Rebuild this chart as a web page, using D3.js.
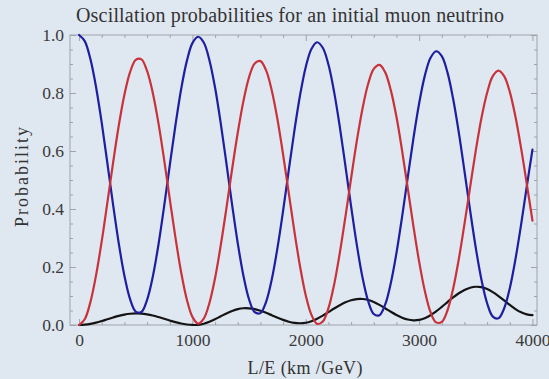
<!DOCTYPE html>
<html><head><meta charset="utf-8">
<script src="https://cdn.jsdelivr.net/npm/d3@7"></script>
<style>html,body{margin:0;padding:0;background:#dfe7f1;} svg{display:block}</style>
</head><body><svg id="c" width="549" height="379"></svg>
<script>
// L/E sample positions (km/GeV)
const lOverE = [0,50,100,150,200,250,300,350,400,450,500,550,600,650,700,750,800,850,900,950,
  1000,1050,1100,1150,1200,1250,1300,1350,1400,1450,1500,1550,1600,1650,1700,1750,1800,1850,1900,1950,
  2000,2050,2100,2150,2200,2250,2300,2350,2400,2450,2500,2550,2600,2650,2700,2750,2800,2850,2900,2950,
  3000,3050,3100,3150,3200,3250,3300,3350,3400,3450,3500,3550,3600,3650,3700,3750,3800,3850,3900,3950,4000];
// blue: muon neutrino survival
const pMuMu = [1.000,.979,.917,.820,.697,.557,.415,.282,.170,.089,.046,.045,.087,.166,.276,.408,.550,.688,.812,.909,
  .972,.994,.974,.913,.818,.695,.557,.415,.282,.170,.088,.044,.041,.080,.157,.265,.394,.534,.671,.793,
  .890,.952,.975,.956,.898,.804,.684,.548,.409,.277,.165,.083,.038,.034,.070,.144,.248,.374,.510,.644,
  .764,.859,.921,.944,.927,.871,.780,.664,.531,.395,.266,.156,.075,.029,.023,.057,.127,.227,.347,.478,.605];
// red: muon -> tau
const pMuTau = [0.000,.020,.079,.172,.289,.423,.559,.687,.794,.872,.914,.916,.876,.801,.697,.571,.435,.302,.183,.089,
  .028,.005,.022,.076,.162,.275,.403,.537,.663,.772,.855,.902,.910,.878,.809,.710,.588,.455,.322,.201,
  .102,.035,.004,.012,.058,.139,.248,.374,.506,.634,.745,.831,.883,.897,.872,.810,.718,.601,.471,.340,
  .219,.118,.045,.009,.011,.050,.125,.227,.348,.476,.602,.714,.801,.858,.877,.858,.804,.718,.609,.486,.360];
// black: muon -> electron
const pMuE = [0.000,.0010,.0037,.0081,.0136,.0197,.0258,.0314,.0359,.0388,.0400,.0393,.0367,.0327,.0274,.0215,.0155,.0098,.0051,.0018,
  .0001,.0006,.0044,.0111,.0200,.0300,.0399,.0484,.0546,.0577,.0575,.0545,.0491,.0419,.0337,.0253,.0176,.0114,.0074,.0060,
  .0078,.0132,.0215,.0322,.0443,.0567,.0683,.0781,.0854,.0893,.0897,.0862,.0792,.0694,.0578,.0458,.0345,.0252,.0188,.0161,
  .0175,.0235,.0336,.0469,.0625,.0790,.0950,.1094,.1209,.1286,.1319,.1304,.1241,.1135,.0999,.0846,.0691,.0550,.0437,.0365,.0340];
const xTicks = [0,1000,2000,3000,4000];
const yTicks = [0,0.2,0.4,0.6,0.8,1.0];
const xMinorTicks = [200,400,600,800,1200,1400,1600,1800,2200,2400,2600,2800,3200,3400,3600,3800];
const yMinorTicks = [0.05,0.1,0.15,0.25,0.3,0.35,0.45,0.5,0.55,0.65,0.7,0.75,0.85,0.9,0.95];
const titleText = "Oscillation probabilities for an initial muon neutrino";
const xLabel = "L/E (km /GeV)";
const yLabel = "Probability";

const W = 549, H = 379;
const FONT = "'Liberation Serif','Times New Roman',serif";
const svg = d3.select("#c");
svg.append("rect").attr("width", W).attr("height", H).attr("fill", "#dfe7f1");

const x = d3.scaleLinear().domain([-80, 4040]).range([70, 537]);
const y = d3.scaleLinear().domain([0, 1]).range([325, 35]);
const x0 = x.range()[0], x1 = x.range()[1], y0 = y.range()[0], y1 = y.range()[1];

const frameColor = "#9ea3aa";
function styleAxis(g, showText) {
  g.select(".domain").remove();
  g.selectAll(".tick line").attr("stroke", frameColor).attr("stroke-width", 1);
  g.selectAll("text").attr("font-family", FONT).attr("font-size", 17.5).attr("fill", "#3a3a3a");
  if (!showText) g.selectAll("text").remove();
}
// major ticks
svg.append("g").attr("transform", `translate(0,${y0})`)
  .call(d3.axisBottom(x).tickValues(xTicks).tickSize(-6).tickPadding(9).tickFormat(d3.format("d")))
  .call(g => styleAxis(g, true));
svg.append("g").attr("transform", `translate(0,${y1})`)
  .call(d3.axisTop(x).tickValues(xTicks).tickSize(-6))
  .call(g => styleAxis(g, false));
svg.append("g").attr("transform", `translate(${x0},0)`)
  .call(d3.axisLeft(y).tickValues(yTicks).tickSize(-6).tickPadding(6).tickFormat(d3.format(".1f")))
  .call(g => styleAxis(g, true));
svg.append("g").attr("transform", `translate(${x1},0)`)
  .call(d3.axisRight(y).tickValues(yTicks).tickSize(-6))
  .call(g => styleAxis(g, false));
// minor ticks
svg.append("g").attr("transform", `translate(0,${y0})`)
  .call(d3.axisBottom(x).tickValues(xMinorTicks).tickSize(-3)).call(g => styleAxis(g, false));
svg.append("g").attr("transform", `translate(0,${y1})`)
  .call(d3.axisTop(x).tickValues(xMinorTicks).tickSize(-3)).call(g => styleAxis(g, false));
svg.append("g").attr("transform", `translate(${x0},0)`)
  .call(d3.axisLeft(y).tickValues(yMinorTicks).tickSize(-3)).call(g => styleAxis(g, false));
svg.append("g").attr("transform", `translate(${x1},0)`)
  .call(d3.axisRight(y).tickValues(yMinorTicks).tickSize(-3)).call(g => styleAxis(g, false));

// frame
svg.append("rect").attr("x", x0).attr("y", y1).attr("width", x1 - x0).attr("height", y0 - y1)
  .attr("fill", "none").attr("stroke", frameColor).attr("stroke-width", 1);

// curves
const series = [
  {vals: pMuE, color: "#141414"},
  {vals: pMuMu, color: "#1e1ea0"},
  {vals: pMuTau, color: "#c8323a"}
];
const line = d3.line().x((d, i) => x(lOverE[i])).y(d => y(d)).curve(d3.curveCatmullRom.alpha(0.5));
series.forEach(s => {
  svg.append("path").datum(s.vals).attr("d", line)
    .attr("fill", "none").attr("stroke", s.color).attr("stroke-width", 2.2)
    .attr("stroke-linejoin", "round").attr("stroke-linecap", "round");
});

// texts
svg.append("text").attr("x", 290).attr("y", 22).attr("text-anchor", "middle")
  .attr("font-family", FONT).attr("font-size", 20).attr("fill", "#333")
  .attr("textLength", 428).attr("lengthAdjust", "spacing").text(titleText);
svg.append("text").attr("x", 305).attr("y", 374).attr("text-anchor", "middle")
  .attr("font-family", FONT).attr("font-size", 18).attr("fill", "#333")
  .attr("textLength", 115).attr("lengthAdjust", "spacing").text(xLabel);
svg.append("text").attr("transform", `translate(28,177) rotate(-90)`).attr("text-anchor", "middle")
  .attr("font-family", FONT).attr("font-size", 18).attr("fill", "#333")
  .attr("textLength", 100).attr("lengthAdjust", "spacing").text(yLabel);
</script></body></html>
